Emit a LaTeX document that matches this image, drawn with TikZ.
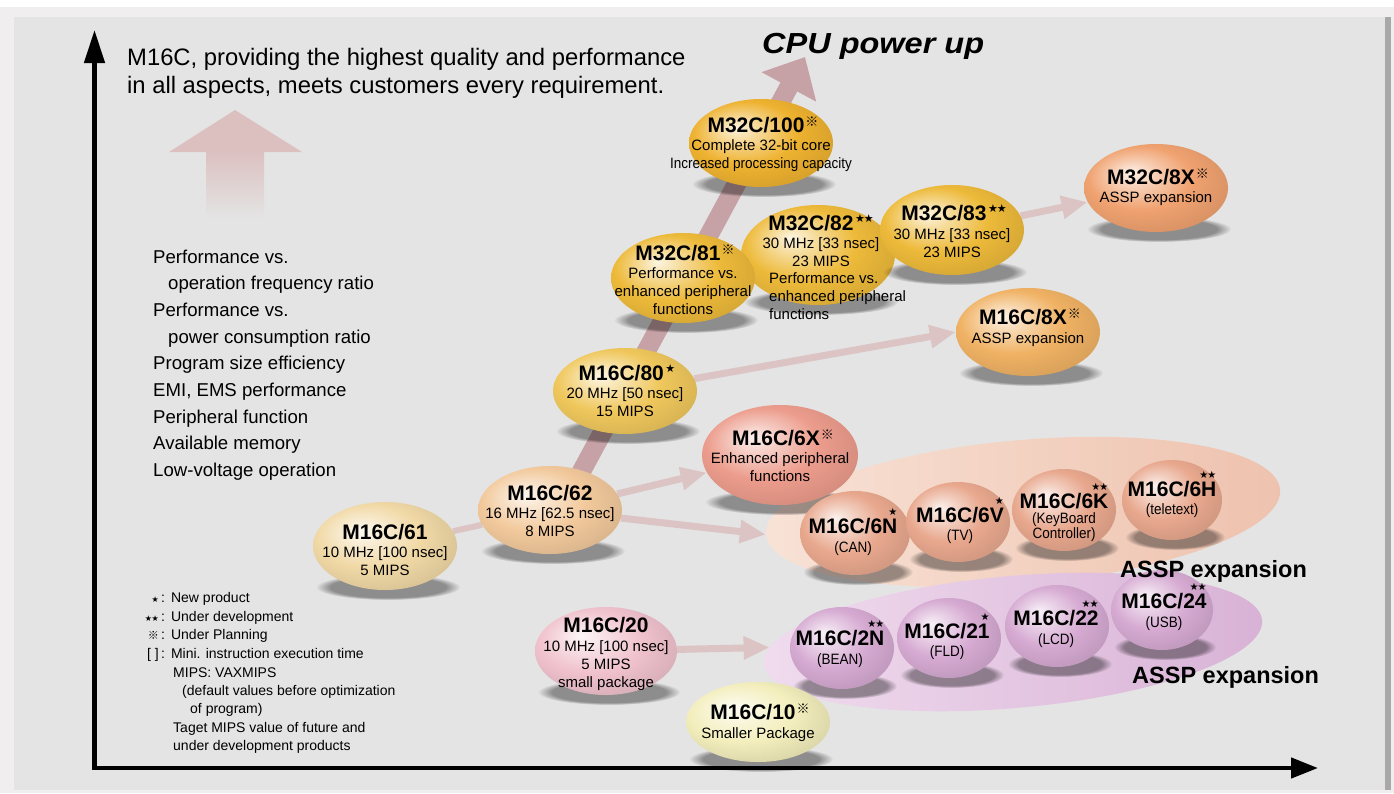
\documentclass[tikz,border=0pt]{standalone}
\usepackage{fontspec}
\setmainfont{Liberation Sans}
\newfontfamily\condf[FakeStretch=0.9]{Liberation Sans}
\newfontfamily\symf{DejaVu Sans}
\newfontfamily\cjkf{Noto Sans CJK JP}
\usetikzlibrary{shapes.geometric,arrows.meta,fadings}
\definecolor{outerbg}{HTML}{F0EEEF}
\definecolor{panel}{HTML}{E4E4E4}
\definecolor{edgegray}{HTML}{A8A8A8}
\definecolor{diagc}{HTML}{C6A2A6}
\definecolor{connc}{HTML}{DCC4C5}
\definecolor{upc}{HTML}{DCC0C0}
\definecolor{c61}{HTML}{F1D9A6}
\definecolor{c62}{HTML}{F2C99C}
\definecolor{c80}{HTML}{EFC75C}
\definecolor{c81}{HTML}{EDBA3A}
\definecolor{c100}{HTML}{EEB230}
\definecolor{c16x}{HTML}{F0B264}
\definecolor{c32x}{HTML}{F0A270}
\definecolor{c6x}{HTML}{EC9C8C}
\definecolor{c20}{HTML}{F0C2CD}
\definecolor{c10}{HTML}{F3EEBC}
\definecolor{g1l}{HTML}{F8E2D6}
\definecolor{g1r}{HTML}{EEC2AE}
\definecolor{g2l}{HTML}{F0DCEE}
\definecolor{g2r}{HTML}{D8B2D6}
\definecolor{gi1}{HTML}{E8A88E}
\definecolor{gi2}{HTML}{D6AAD2}
\colorlet{eggbase}{white}
\pgfdeclareradialshading[eggbase]{egg}{\pgfpoint{-9bp}{9bp}}{%
  color(0bp)=(eggbase!15!white); color(7bp)=(eggbase!50!white);
  color(18bp)=(eggbase); color(33bp)=(eggbase!88!black);
  color(50bp)=(eggbase!88!black)}
\pgfdeclarelayer{bgl}
\pgfdeclarelayer{connl}
\pgfsetlayers{bgl,connl,main}
\tikzset{
  eggst/.style={ellipse, inner sep=0pt, draw=none, shading=egg,
    /utils/exec={\colorlet{eggbase}{#1}}},
  grp/.style={ellipse, inner sep=0pt, draw=none},
  shadowst/.style={fill=black, fill opacity=0.38,
    path fading=circle with fuzzy edge 20 percent},
  ttl/.style={anchor=base, inner sep=0pt, font=\fontsize{21}{21}\selectfont\bfseries},
  bdy/.style={anchor=base, inner sep=0pt, align=center, font=\fontsize{15}{18.3}\selectfont},
  ttlc/.style={anchor=base, inner sep=0pt, font=\fontsize{21}{21}\selectfont\bfseries},
  subc/.style={anchor=base, inner sep=0pt, align=center, font=\condf\fontsize{15}{15}\selectfont},
  assp/.style={anchor=base west, inner sep=0pt, font=\fontsize{23.5}{23.5}\selectfont\bfseries},
  leg/.style={inner sep=0pt, font=\fontsize{14}{18.4}\selectfont},
  conn/.style={draw=connc, line width=7pt, -{Triangle[length=26pt,width=22pt]}},
  connline/.style={draw=connc, line width=6pt},
  diag/.style={draw=diagc, line width=19pt, -{Triangle[length=34pt,width=60pt]}},
  axis/.style={line width=4.5pt, line join=miter,
    {Triangle[length=33pt,width=20pt]}-{Triangle[length=27pt,width=20pt]}}
}
\newcommand\myegg[6]{%
  \fill[shadowst] (#2+3,#3+#5-3) ellipse [x radius=#4pt, y radius=13pt];
  \node[eggst=#6, minimum width=2*#4pt, minimum height=2*#5pt] (#1) at (#2,#3) {};}
\newcommand\sone{\hspace{1.5pt}\raisebox{8pt}{\symf\fontsize{11}{11}\selectfont ★}}
\newcommand\stwo{\hspace{1.5pt}\raisebox{8pt}{\symf\fontsize{11}{11}\selectfont ★\kern-1pt★}}
\newcommand\plan{\hspace{1pt}\raisebox{6pt}{\cjkf\fontsize{13}{13}\selectfont ※}}
\newcommand\tsone{\llap{\raisebox{18pt}{\symf\fontsize{10}{10}\selectfont ★}}}
\newcommand\tstwo{\llap{\raisebox{18pt}{\symf\fontsize{10}{10}\selectfont ★\kern-1pt★}}}
\begin{document}
\begin{tikzpicture}[x=1pt,y=-1pt]
\useasboundingbox (0,0) rectangle (1394,793);
\begin{pgfonlayer}{bgl}
  \fill[outerbg] (0,0) rectangle (1394,793);
  \fill[white] (0,0) rectangle (1394,7);
  \fill[panel] (14,17) rectangle (1385,790);
  \fill[edgegray] (1385,17) rectangle (1391,790);
  % faded up arrow
  \fill[upc] (169,152) -- (235,110) -- (302,152) -- cycle;
  \fill[top color=upc, bottom color=panel] (206,151) rectangle (264,218);
\end{pgfonlayer}

% axes
\coordinate (o) at (94.5,768);
\coordinate (ytip) at (94.5,30);
\coordinate (xtip) at (1318,768);
\draw[axis] (ytip) -- (o) -- (xtip);

% texts (multi-line nodes are placed at the baseline of their last line)
\node[anchor=base west, align=left, inner sep=0pt, font=\fontsize{23.8}{28}\selectfont] (head) at (127,93)
  {M16C, providing the highest quality and performance\\in all aspects, meets customers every requirement.};
\node[anchor=base west, inner sep=0pt, font=\fontsize{29}{29}\selectfont\bfseries\itshape] (cpu) at (762,53)
  {\scalebox{1.12}[1]{CPU power up}};
\node[anchor=base west, align=left, inner sep=0pt, font=\fontsize{18.6}{26.7}\selectfont] (list) at (153,476.6)
  {Performance vs.\\\hspace{15pt}operation frequency ratio\\Performance vs.\\\hspace{15pt}power consumption ratio\\Program size efficiency\\EMI, EMS performance\\Peripheral function\\Available memory\\Low-voltage operation};

% legend
\node[leg, anchor=base east] (l1s) at (159,602) {\symf\fontsize{8}{8}\selectfont ★};
\node[leg, anchor=base east] (l2s) at (159,621) {\symf\fontsize{8}{8}\selectfont ★\kern-0.5pt★};
\node[leg, anchor=base east] (l3s) at (159,639) {\cjkf\fontsize{11}{11}\selectfont ※};
\node[leg, anchor=base east] (l4s) at (159,658) {[ ]};
\node[leg, anchor=base west] (l1) at (161,602) {:\hspace{6pt}New product};
\node[leg, anchor=base west] (l2) at (161,621) {:\hspace{6pt}Under development};
\node[leg, anchor=base west] (l3) at (161,639) {:\hspace{6pt}Under Planning};
\node[leg, anchor=base west] (l4) at (161,658) {:\hspace{6pt}Mini. instruction execution time};
\node[leg, anchor=base west, align=left] (l5) at (173,750.6)
  {MIPS: VAXMIPS\\\hspace{9pt}(default values before optimization\\\hspace{17pt}of program)\\Taget MIPS value of future and\\under development products};

% big arrow end points
\coordinate (dS) at (566,500);
\coordinate (dE) at (805,57);

% group ellipses
\node[grp, left color=g1l, right color=g1r, minimum width=516pt, minimum height=144pt, rotate=5] (g1) at (1023,512) {};
\node[grp, left color=g2l, right color=g2r, minimum width=500pt, minimum height=132pt, rotate=5] (g2) at (1013,642) {};

% eggs
\myegg{n61}{385}{546}{72}{44}{c61}
\node[ttl] (n61t) at (385,539) {M16C/61};
\node[bdy] (n61b) at (385,575.3) {10 MHz [100 nsec]\\5 MIPS};

\myegg{n62}{550}{510}{72}{44}{c62}
\node[ttl] (n62t) at (550,500) {M16C/62};
\node[bdy] (n62b) at (550,536.3) {16 MHz [62.5 nsec]\\8 MIPS};

\myegg{n80}{625}{391}{72}{43}{c80}
\node[ttl] (n80t) at (627,380) {M16C/80\sone};
\node[bdy] (n80b) at (625,416.3) {20 MHz [50 nsec]\\15 MIPS};

\myegg{n6x}{780}{455}{78}{50}{c6x}
\node[ttl] (n6xt) at (783,445) {M16C/6X\plan};
\node[bdy] (n6xb) at (780,481.3) {Enhanced peripheral\\functions};

\myegg{n82}{818}{255}{77}{50}{c81}
\node[ttl] (n82t) at (821,230) {M32C/82\stwo};
\node[bdy] (n82b) at (821,266.3) {30 MHz [33 nsec]\\23 MIPS};
\node[bdy, anchor=base west, align=left] (n82c) at (769,319.6) {Performance vs.\\enhanced peripheral\\functions};

\myegg{n83}{952}{230}{72}{45}{c81}
\node[ttl] (n83t) at (954,220) {M32C/83\stwo};
\node[bdy] (n83b) at (952,257.3) {30 MHz [33 nsec]\\23 MIPS};

\myegg{n81}{683}{278}{72}{45}{c81}
\node[ttl] (n81t) at (685,260) {M32C/81\plan};
\node[bdy] (n81b) at (683,314.6) {Performance vs.\\enhanced peripheral\\functions};

\myegg{n100}{761}{143}{72}{44}{c100}
\node[ttl] (n100t) at (763,132) {M32C/100\plan};
\node[bdy] (n100b) at (761,150) {Complete 32-bit core};
\node[bdy, font=\condf\fontsize{15}{15}\selectfont] (n100c) at (761,168) {Increased processing capacity};

\myegg{n32x}{1156}{188}{72}{44}{c32x}
\node[ttl] (n32xt) at (1158,184) {M32C/8X\plan};
\node[bdy] (n32xb) at (1156,202) {ASSP expansion};

\myegg{n16x}{1028}{332}{72}{44}{c16x}
\node[ttl] (n16xt) at (1030,324) {M16C/8X\plan};
\node[bdy] (n16xb) at (1028,343) {ASSP expansion};

\myegg{n20}{606}{651}{71}{44}{c20}
\node[ttl] (n20t) at (606,632) {M16C/20};
\node[bdy] (n20b) at (606,687.6) {10 MHz [100 nsec]\\5 MIPS\\small package};

% group 1 members
\myegg{n6n}{855}{533}{55}{42}{gi1}
\node[ttlc] (n6nt) at (853,533) {M16C/6N\tsone};
\node[subc] (n6nb) at (853,552) {(CAN)};
\myegg{n6v}{958}{522}{52}{40}{gi1}
\node[ttlc] (n6vt) at (960,522) {M16C/6V\tsone};
\node[subc] (n6vb) at (960,540) {(TV)};
\myegg{n6k}{1064}{510}{52}{41}{gi1}
\node[ttlc] (n6kt) at (1064,508) {M16C/6K\tstwo};
\node[subc] (n6kb) at (1064,538) {(KeyBoard\\Controller)};
\myegg{n6h}{1172}{500}{50}{40}{gi1}
\node[ttlc] (n6ht) at (1172,496) {M16C/6H\tstwo};
\node[subc] (n6hb) at (1172,514) {(teletext)};

% group 2 members
\myegg{n2n}{842}{648}{52}{41}{gi2}
\node[ttlc] (n2nt) at (840,645) {M16C/2N\tstwo};
\node[subc] (n2nb) at (840,664) {(BEAN)};
\myegg{n21}{949}{638}{52}{40}{gi2}
\node[ttlc] (n21t) at (947,638) {M16C/21\tsone};
\node[subc] (n21b) at (947,656) {(FLD)};
\myegg{n22}{1057}{626}{52}{41}{gi2}
\node[ttlc] (n22t) at (1056,625) {M16C/22\tstwo};
\node[subc] (n22b) at (1056,644) {(LCD)};
\myegg{n24}{1162}{610}{51}{40}{gi2}
\node[ttlc] (n24t) at (1164,608) {M16C/24\tstwo};
\node[subc] (n24b) at (1164,627) {(USB)};

\myegg{n10}{758}{722}{72}{40}{c10}
\node[ttl] (n10t) at (760,719) {M16C/10\plan};
\node[bdy] (n10b) at (758,738) {Smaller Package};

\node[assp] (a1) at (1120,577) {ASSP expansion};
\node[assp] (a2) at (1132,683) {ASSP expansion};

\begin{pgfonlayer}{connl}
  \draw[diag] (dS) -- (dE);
  \draw[connline] (n61) -- (n62);
  \draw[conn] (n62) -- (n6x);
  \draw[conn] (n62) -- (g1.west);
  \draw[conn] (n80) -- (n16x.west);
  \draw[conn] (n83) -- (n32x);
  \draw[conn] (n20) -- (g2);
\end{pgfonlayer}
\end{tikzpicture}
\end{document}
